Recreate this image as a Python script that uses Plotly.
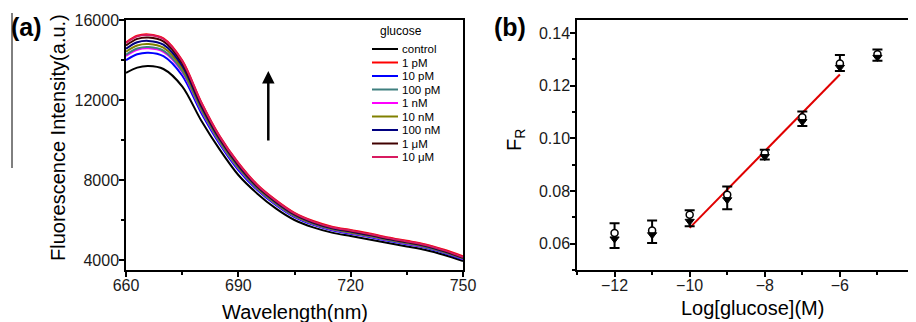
import plotly.graph_objects as go

# page is 916x322; the html body has an 8px margin, so the figure is 908x314 at (8, 8)
OFF = 8
W, H = 916 - OFF, 322 - OFF

# ---------------- Panel (a) data ----------------
wavelength = [660, 663, 666, 670, 675, 680, 685, 690, 695, 700, 705, 710, 715, 720, 725, 730, 735, 740, 745, 750]

series_names = ["control", "1 pM", "10 pM", "100 pM", "1 nM", "10 nM", "100 nM", "1 \u03bcM", "10 \u03bcM"]
series_colors = ["#000000", "#FF0000", "#0000FF", "#3F7F7F", "#FF00FF", "#808000", "#000080", "#400000", "#D81B60"]

control = [13350, 13620, 13700, 13550, 12680, 11000, 9530, 8250, 7330, 6580, 6000, 5630, 5370, 5200, 5030, 4850, 4680, 4500, 4250, 3950]
g_1pM = [14880, 15210, 15280, 15080, 13980, 11930, 10200, 8860, 7780, 7000, 6360, 5950, 5670, 5500, 5330, 5130, 4960, 4780, 4510, 4180]
g_10pM = [13995, 14291, 14367, 14195, 13226, 11387, 9805, 8499, 7511, 6748, 6142, 5755, 5486, 5316, 5146, 4958, 4788, 4608, 4349, 4036]
g_100pM = [14265, 14572, 14646, 14465, 13455, 11549, 9920, 8604, 7586, 6818, 6201, 5807, 5535, 5365, 5195, 5003, 4833, 4653, 4390, 4072]
g_1nM = [14205, 14509, 14584, 14405, 13404, 11513, 9895, 8581, 7569, 6802, 6188, 5795, 5524, 5354, 5184, 4993, 4823, 4643, 4381, 4064]
g_10nM = [14415, 14728, 14801, 14615, 13582, 11639, 9984, 8662, 7628, 6857, 6234, 5836, 5562, 5392, 5222, 5028, 4858, 4678, 4413, 4092]
g_100nM = [14565, 14884, 14956, 14765, 13709, 11729, 10048, 8720, 7670, 6896, 6267, 5865, 5589, 5419, 5249, 5053, 4883, 4703, 4436, 4112]
g_1uM = [14730, 15055, 15126, 14930, 13848, 11828, 10119, 8784, 7716, 6939, 6304, 5897, 5618, 5448, 5278, 5080, 4910, 4730, 4462, 4134]
g_10uM = [14850, 15180, 15250, 15050, 13950, 11900, 10170, 8830, 7750, 6970, 6330, 5920, 5640, 5470, 5300, 5100, 4930, 4750, 4480, 4150]

series_values = [control, g_1pM, g_10pM, g_100pM, g_1nM, g_10nM, g_100nM, g_1uM, g_10uM]
# draw order (last on top)
draw_order = [0, 2, 4, 3, 5, 6, 1, 7, 8]

# ---------------- Panel (b) data ----------------
log_glucose = [-12, -11, -10, -9, -8, -7, -6, -5]
fr_open = [0.0641, 0.0650, 0.0710, 0.0786, 0.0944, 0.1080, 0.1285, 0.1320]
fr_filled = [0.0618, 0.0634, 0.0685, 0.0767, 0.0931, 0.1064, 0.1270, 0.1308]
err_top = [0.0678, 0.0688, 0.0727, 0.0817, 0.0957, 0.1102, 0.1317, 0.1338]
err_bottom = [0.0584, 0.0603, 0.0666, 0.0731, 0.0920, 0.1047, 0.1256, 0.1295]
fit_range = [-10, -6]
fit_slope = 0.014575
fit_intercept = 0.21175

FONT = "Arial, 'Liberation Sans', sans-serif"

fig = go.Figure()

for i in draw_order:
    fig.add_trace(go.Scatter(
        x=wavelength, y=series_values[i], mode="lines", name=series_names[i],
        line=dict(color=series_colors[i], width=2, shape="spline", smoothing=0.9),
        xaxis="x", yaxis="y", showlegend=False, hoverinfo="skip"))

# fit line
fit_y = [fit_slope * v + fit_intercept for v in fit_range]
fig.add_trace(go.Scatter(x=fit_range, y=fit_y, mode="lines",
                         line=dict(color="#E00000", width=2),
                         xaxis="x2", yaxis="y2", showlegend=False))

err_plus = [t - m for t, m in zip(err_top, fr_open)]
err_minus = [m - b for m, b in zip(fr_open, err_bottom)]
fig.add_trace(go.Scatter(
    x=log_glucose, y=fr_open, mode="markers",
    marker=dict(symbol="circle", size=7, color="white", line=dict(color="black", width=1.5)),
    error_y=dict(type="data", symmetric=False, array=err_plus, arrayminus=err_minus,
                 color="black", thickness=2, width=5),
    xaxis="x2", yaxis="y2", showlegend=False))
fig.add_trace(go.Scatter(
    x=log_glucose, y=fr_filled, mode="markers",
    marker=dict(symbol="triangle-down", size=8, color="black", line=dict(color="black", width=1)),
    xaxis="x2", yaxis="y2", showlegend=False))

def px(x):
    return (x - OFF) / W

def py(y):
    return 1 - (y - OFF) / H

axis_common = dict(showline=True, linecolor="black", linewidth=1.5, mirror=True,
                   ticks="outside", ticklen=5, tickwidth=1.5, tickcolor="black",
                   showgrid=False, zeroline=False, automargin=False,
                   tickfont=dict(family=FONT, size=16, color="#1a1a1a"))

fig.update_layout(
    width=W, height=H,
    margin=dict(l=0, r=0, t=0, b=0),
    paper_bgcolor="white", plot_bgcolor="white",
    font=dict(family=FONT, color="black"),
    xaxis=dict(domain=[px(126), px(463)], range=[660, 750], tick0=660, dtick=30,
               ticklabelstandoff=-5,
               minor=dict(dtick=15, ticks="outside", ticklen=3, tickcolor="black"),
               anchor="y", **axis_common),
    yaxis=dict(domain=[py(270), py(20)], range=[3500, 16000], tick0=4000, dtick=4000,
               tickformat="d", ticklabelstandoff=-3,
               minor=dict(dtick=2000, ticks="outside", ticklen=3, tickcolor="black"),
               anchor="x", **axis_common),
    xaxis2=dict(domain=[px(577), min(1.0, px(915))], range=[-13, -4], tick0=-12, dtick=2,
                ticklabelstandoff=-5,
                minor=dict(dtick=1, ticks="outside", ticklen=3, tickcolor="black"),
                anchor="y2", **axis_common),
    yaxis2=dict(domain=[py(270), py(20)], range=[0.05, 0.145], tick0=0.06, dtick=0.02,
                tickformat=".2f", ticklabelstandoff=-3,
                minor=dict(dtick=0.01, ticks="outside", ticklen=3, tickcolor="black"),
                anchor="x2", **axis_common),
)

annotations = []
shapes = []

# axis titles
annotations.append(dict(text="Wavelength(nm)", x=px(295), y=py(312), xref="paper", yref="paper",
                        showarrow=False, font=dict(size=20, family=FONT), xanchor="center", yanchor="middle"))
annotations.append(dict(text="Fluorescence Intensity(a.u.)", x=px(58), y=py(138), xref="paper", yref="paper",
                        showarrow=False, textangle=-90, font=dict(size=20, family=FONT),
                        xanchor="center", yanchor="middle"))
annotations.append(dict(text="Log[glucose](M)", x=px(752), y=py(308), xref="paper", yref="paper",
                        showarrow=False, font=dict(size=20, family=FONT), xanchor="center", yanchor="middle"))
annotations.append(dict(text="F<sub>R</sub>", x=px(515), y=py(140), xref="paper", yref="paper",
                        showarrow=False, textangle=-90, font=dict(size=20, family=FONT),
                        xanchor="center", yanchor="middle"))
# partially visible last tick label of panel (b), cut by the image edge
annotations.append(dict(text="-4", x=-4, y=py(285), xref="x2", yref="paper",
                        showarrow=False, font=dict(size=16, family=FONT, color="#1a1a1a"),
                        xanchor="center", yanchor="middle"))
# panel labels
annotations.append(dict(text="<b>(a)</b>", x=px(26), y=py(27), xref="paper", yref="paper",
                        showarrow=False, font=dict(size=25, family=FONT), xanchor="center", yanchor="middle"))
annotations.append(dict(text="<b>(b)</b>", x=px(510), y=py(27), xref="paper", yref="paper",
                        showarrow=False, font=dict(size=25, family=FONT), xanchor="center", yanchor="middle"))

# arrow in panel (a)
annotations.append(dict(x=698, y=13450, ax=698, ay=9900, xref="x", yref="y", axref="x", ayref="y",
                        text="", showarrow=True, arrowhead=2, arrowsize=1, arrowwidth=2.5,
                        arrowcolor="black"))

# manual legend for panel (a)
annotations.append(dict(text="glucose", x=px(401), y=py(31), xref="paper", yref="paper",
                        showarrow=False, font=dict(size=12, family=FONT), xanchor="center", yanchor="middle"))
row0, row_gap = 49, 13.5
for k, (name, col) in enumerate(zip(series_names, series_colors)):
    yy = row0 + k * row_gap
    shapes.append(dict(type="line", xref="paper", yref="paper", x0=px(372), x1=px(398),
                       y0=py(yy), y1=py(yy), line=dict(color=col, width=2)))
    annotations.append(dict(text=name, x=px(400), y=py(yy), xref="paper", yref="paper",
                            showarrow=False, font=dict(size=11.5, family=FONT),
                            xanchor="left", yanchor="middle"))

# stray vertical line at left edge (present in the source image)
shapes.append(dict(type="line", xref="paper", yref="paper", x0=px(12), x1=px(12),
                   y0=py(13), y1=py(168), line=dict(color="black", width=1)))

fig.update_layout(annotations=annotations, shapes=shapes)

fig.write_html("out.html")
